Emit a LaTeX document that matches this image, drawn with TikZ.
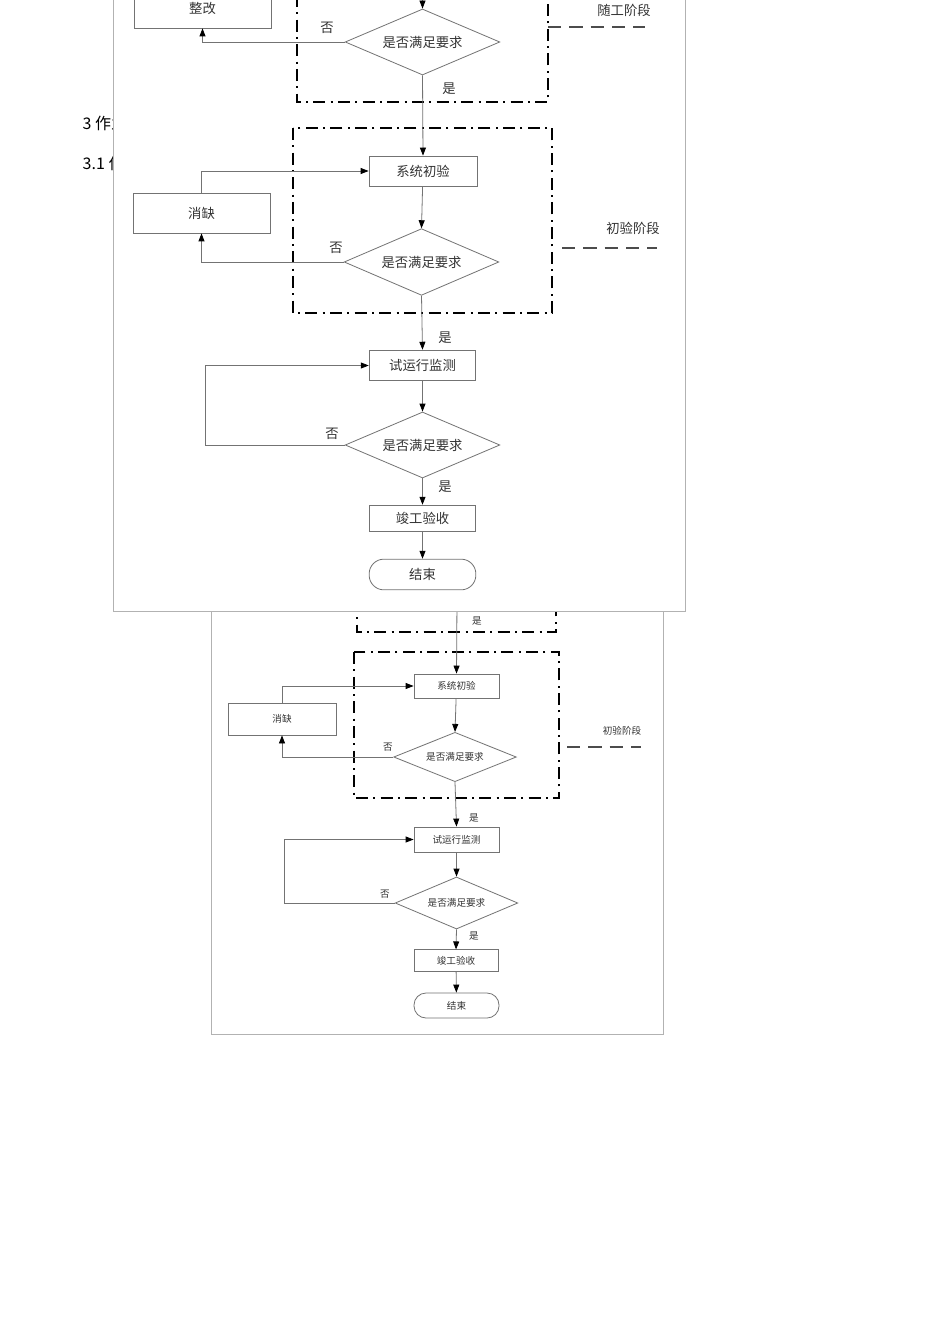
\documentclass[tikz,border=0pt]{standalone}
\usepackage{fontspec}
\setmainfont{Liberation Serif}
\newfontfamily\cjk{Noto Sans CJK SC}
\usetikzlibrary{arrows.meta,shapes.geometric}
\tikzset{
  ln/.style={draw=black!55,line width=0.6pt},
  arr/.style={ln,-{Triangle[length=6pt,width=4.5pt,black]}},
  ddash/.style={draw=black,line width=1.6pt,dash pattern=on 9pt off 4pt on 1.5pt off 4pt},
  sdash/.style={draw=black!70,line width=1pt,dash pattern=on 10pt off 6pt},
  T/.style={font=\cjk\fontsize{10}{12}\selectfont,text=black!80},
  S/.style={font=\cjk\fontsize{7.2}{9}\selectfont,text=black!80},
  frame/.style={draw=black!30,line width=0.6pt,fill=white}
}
\begin{document}
\begin{tikzpicture}[x=0.75pt,y=-0.75pt]
\useasboundingbox[fill=white] (0,0) rectangle (950,1344);
% ---------- lower image ----------
\draw[frame] (211,600) rectangle (663,1034);
\draw[ddash] (357,600) -- (357,632) -- (556,632) -- (556,600);
\node[S] (ys0) at (477,621) {是};
\draw[ddash] (354,652) rectangle (559,798);
\node[S,ln,minimum width=63.75pt,minimum height=18pt] (b1) at (456.5,686) {系统初验};
\node[S,ln,minimum width=81pt,minimum height=24pt] (b2) at (282,719) {消缺};
\node[S,ln,diamond,aspect=2.4,minimum width=92pt,minimum height=37pt,inner sep=0pt] (d1) at (455,757) {是否满足要求};
\node[S] (n1) at (388,747) {否};
\node[S] (lb1) at (622,731) {初验阶段};
\coordinate (e1) at (567,747); \coordinate (e2) at (641,747);
\draw[sdash] (e1) -- (e2);
\node[S,ln,minimum width=63.75pt,minimum height=18.75pt] (b3) at (456.5,839.5) {试运行监测};
\node[S,ln,diamond,aspect=2.4,minimum width=92pt,minimum height=39pt,inner sep=0pt] (d2) at (456.5,903) {是否满足要求};
\node[S] (n2) at (385,894) {否};
\node[S] (y2) at (474,818) {是};
\node[S] (y3) at (474,936) {是};
\node[S,ln,minimum width=63pt,minimum height=16pt] (b4) at (456,960.5) {竣工验收};
\node[S,ln,rounded corners=9pt,minimum width=63.75pt,minimum height=18.75pt] (b5) at (456.5,1005.5) {结束};
\coordinate (t0) at (457,600);
\draw[arr] (t0) -- (b1.north);
\draw[arr] (b1) -- (d1.north);
\draw[arr] (b2.north) |- (b1.west);
\draw[arr] (d1.west) -| (b2.south);
\draw[arr] (d1.south) -- (b3.north);
\draw[arr] (b3) -- (d2.north);
\draw[arr] (d2.west) -- (284,903) |- (b3.west);
\draw[arr] (d2.south) -- (b4.north);
\draw[arr] (b4) -- (b5);
% ---------- text behind top image ----------
\node[font=\cjk\fontsize{12}{14}\selectfont,anchor=west] (h1) at (78,123) {3 作业};
\node[font=\cjk\fontsize{12}{14}\selectfont,anchor=west] (h2) at (78,163) {3.1 作业};
% ---------- top image ----------
\draw[frame] (113,-5) rectangle (685,611);
\draw[ddash] (297,-5) -- (297,102) -- (548,102) -- (548,-5);
\node[T] (lb0) at (624,10) {随工阶段};
\coordinate (f1) at (548,27); \coordinate (f2) at (645,27);
\draw[sdash] (f1) -- (f2);
\node[T,ln,minimum width=102.75pt,minimum height=30pt] (A0) at (202.5,8) {整改};
\node[T,ln,diamond,aspect=2.35,minimum width=116pt,minimum height=49.5pt,inner sep=0pt] (D0) at (422.5,42) {是否满足要求};
\node[T] (N0) at (327,28) {否};
\node[T] (Y0) at (449,89) {是};
\coordinate (t1) at (422.5,-5);
\draw[arr] (t1) -- (D0.north);
\draw[arr] (D0.west) -| (A0.south);
\draw[ddash] (293,128) rectangle (552,313);
\node[T,ln,minimum width=81pt,minimum height=22.5pt] (A1) at (423,171) {系统初验};
\node[T,ln,minimum width=102.75pt,minimum height=30pt] (A2) at (201.5,213) {消缺};
\node[T,ln,diamond,aspect=2.35,minimum width=116pt,minimum height=50pt,inner sep=0pt] (D1) at (421.5,262) {是否满足要求};
\node[T] (N1) at (336,248) {否};
\node[T] (L1) at (633,228) {初验阶段};
\coordinate (g1) at (562,248); \coordinate (g2) at (657,248);
\draw[sdash] (g1) -- (g2);
\draw[arr] (D0.south) -- (A1.north);
\draw[arr] (A1) -- (D1.north);
\draw[arr] (A2.north) |- (A1.west);
\draw[arr] (D1.west) -| (A2.south);
\node[T] (Y1) at (445,338) {是};
\node[T,ln,minimum width=80pt,minimum height=23pt] (A3) at (422.5,365.5) {试运行监测};
\node[T,ln,diamond,aspect=2.35,minimum width=116pt,minimum height=49.5pt,inner sep=0pt] (D2) at (422.5,445) {是否满足要求};
\node[T] (N2) at (332,434) {否};
\node[T] (Y2) at (445,487) {是};
\node[T,ln,minimum width=80pt,minimum height=20pt] (A4) at (422.5,518.5) {竣工验收};
\node[T,ln,rounded corners=11pt,minimum width=80pt,minimum height=23pt] (A5) at (422.5,574.5) {结束};
\draw[arr] (D1.south) -- (A3.north);
\draw[arr] (A3) -- (D2.north);
\draw[arr] (D2.west) -- (205,445) |- (A3.west);
\draw[arr] (D2.south) -- (A4.north);
\draw[arr] (A4) -- (A5);
\end{tikzpicture}
\end{document}
